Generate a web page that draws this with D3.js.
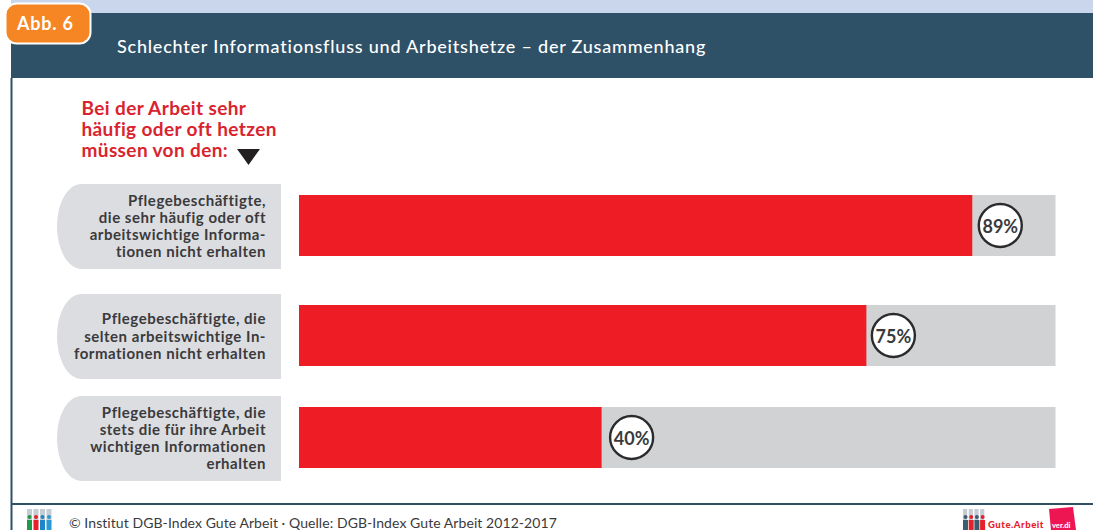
<!DOCTYPE html>
<html>
<head>
<meta charset="utf-8">
<script src="https://cdn.jsdelivr.net/npm/d3@7"></script>
<style>
    html, body { margin: 0; padding: 0; background: #fff; overflow: hidden; }
    svg { display: block; }
    text { font-family: Lato, "Open Sans", sans-serif; }
</style>
</head>
<body>
<svg width="1093" height="530"></svg>
<script>
var categories = ['hoch', 'mittel', 'niedrig']
var values = [89, 75, 40]
var valueLabels = ['89%', '75%', '40%']
var categoryLines = [
    ['Pflegebeschäftigte,', 'die sehr häufig oder oft', 'arbeitswichtige Informa-', 'tionen nicht erhalten'],
    ['Pflegebeschäftigte, die', 'selten arbeitswichtige In-', 'formationen nicht erhalten'],
    ['Pflegebeschäftigte, die', 'stets die für ihre Arbeit', 'wichtigen Informationen', 'erhalten']
]
var introLines = ['Bei der Arbeit sehr', 'häufig oder oft hetzen', 'müssen von den:']
var titleText = 'Schlechter Informationsfluss und Arbeitshetze – der Zusammenhang'
var badgeText = 'Abb. 6'
var footerText = '© Institut DGB-Index Gute Arbeit · Quelle: DGB-Index Gute Arbeit 2012-2017'

var navy = '#2f5167'
var red = '#ee1c25'
var grey = '#d1d2d4'
var labelGrey = '#dcdde0'
var textDark = '#3a3a3c'

var svg = d3.select('svg')

// rahmen und kopf
svg.append('rect').attr('x', 11).attr('y', 0).attr('width', 1082).attr('height', 13).attr('fill', '#c9d6ec')
svg.append('rect').attr('x', 11).attr('y', 13).attr('width', 1082).attr('height', 65).attr('fill', navy)
svg.append('rect').attr('x', 10.5).attr('y', 78).attr('width', 2).attr('height', 452).attr('fill', navy)
svg.append('rect').attr('x', 11).attr('y', 503).attr('width', 1082).attr('height', 2).attr('fill', navy)

svg.append('rect')
    .attr('x', 5.5).attr('y', 3.5)
    .attr('width', 85).attr('height', 40)
    .attr('rx', 11)
    .attr('fill', '#f68524')
    .attr('stroke', '#fff')
    .attr('stroke-width', 2)

svg.append('text')
    .attr('x', 17).attr('y', 30)
    .attr('fill', '#fff')
    .attr('font-size', 18)
    .attr('font-weight', 700)
    .attr('letter-spacing', 0.8)
    .text(badgeText)

svg.append('text')
    .attr('x', 117).attr('y', 53)
    .attr('fill', '#fff')
    .attr('font-size', 18)
    .attr('font-weight', 500)
    .attr('letter-spacing', 0.78)
    .text(titleText)

// überschrift links
svg.selectAll('.intro')
    .data(introLines)
    .enter()
    .append('text')
    .attr('class', 'intro')
    .attr('x', 81.5)
    .attr('y', function (d, i) { return 115 + i * 21 })
    .attr('fill', '#d9232e')
    .attr('font-size', 19)
    .attr('font-weight', 700)
    .attr('letter-spacing', 0.38)
    .text(function (d) { return d })

svg.append('path')
    .attr('d', 'M237,149 L260,149 L248.5,165 Z')
    .attr('fill', '#231f20')

// skalen
var x = d3.scaleLinear().domain([0, 100]).range([299, 1055.5])
var rowY = d3.scaleOrdinal().domain(categories).range([225.5, 335.5, 437.5])
var circleGap = d3.scaleOrdinal().domain(categories).range([28, 27, 30])
var barHeight = 61
var labelHeight = 85

// kategorie-felder
var rows = svg.selectAll('.row')
    .data(categories)
    .enter()
    .append('g')
    .attr('class', 'row')
    .attr('transform', function (d) { return 'translate(0,' + rowY(d) + ')' })

var labelTop = -labelHeight / 2 + 1
var labelBottom = labelHeight / 2 + 1

rows.append('path')
    .attr('d', 'M281,' + labelTop + ' L82,' + labelTop +
        ' C66,' + labelTop + ' 57,-20 57,1 C57,21 66,' + labelBottom +
        ' 82,' + labelBottom + ' L281,' + labelBottom + ' Z')
    .attr('fill', labelGrey)

rows.append('text')
    .attr('text-anchor', 'end')
    .attr('fill', textDark)
    .attr('font-size', 15)
    .attr('font-weight', 700)
    .attr('letter-spacing', 0.52)
    .selectAll('tspan')
    .data(function (d, i) { return categoryLines[i] })
    .enter()
    .append('tspan')
    .attr('x', 266)
    .attr('y', function (d, i, nodes) { return (i - (nodes.length - 1) / 2) * 17.3 + 6 })
    .text(function (d) { return d })

// balken
rows.append('rect')
    .attr('x', x(0))
    .attr('y', -barHeight / 2)
    .attr('width', x(100) - x(0))
    .attr('height', barHeight)
    .attr('fill', grey)

rows.append('rect')
    .attr('x', x(0))
    .attr('y', -barHeight / 2)
    .attr('width', function (d, i) { return x(values[i]) - x(0) })
    .attr('height', barHeight)
    .attr('fill', red)

rows.append('circle')
    .attr('cx', function (d, i) { return x(values[i]) + circleGap(d) })
    .attr('cy', 0)
    .attr('r', 21.5)
    .attr('fill', '#fff')
    .attr('stroke', '#2b2b2d')
    .attr('stroke-width', 2.4)

rows.append('text')
    .attr('x', function (d, i) { return x(values[i]) + circleGap(d) })
    .attr('y', 7)
    .attr('text-anchor', 'middle')
    .attr('fill', textDark)
    .attr('font-size', 18)
    .attr('font-weight', 700)
    .text(function (d, i) { return valueLabels[i] })

// fusszeile
svg.append('text')
    .attr('x', 69).attr('y', 528)
    .attr('fill', textDark)
    .attr('font-size', 14)
    .attr('letter-spacing', 0.07)
    .text(footerText)

function people (g, x0, colors, step) {
    g.selectAll('.bg')
        .data(colors)
        .enter()
        .append('rect')
        .attr('x', function (d, i) { return x0 + i * step })
        .attr('y', 509)
        .attr('width', step - 1.5)
        .attr('height', 14)
        .attr('fill', '#c6ccd3')
    g.selectAll('.head')
        .data(colors)
        .enter()
        .append('circle')
        .attr('cx', function (d, i) { return x0 + 2.5 + i * step })
        .attr('cy', 517)
        .attr('r', 2)
        .attr('fill', function (d) { return d })
    g.selectAll('.body')
        .data(colors)
        .enter()
        .append('rect')
        .attr('x', function (d, i) { return x0 + i * step })
        .attr('y', 520)
        .attr('width', 5)
        .attr('height', 10)
        .attr('fill', function (d) { return d })
}

people(svg.append('g'), 27, ['#1f9a4a', '#e8202a', '#1b87c9', '#2a9ad6'], 6.5)
people(svg.append('g'), 963, ['#3e5c70', '#e8202a', '#3e5c70', '#e8202a'], 5.7)

svg.append('text')
    .attr('x', 988).attr('y', 528)
    .attr('fill', '#e8202a')
    .attr('font-size', 9.5)
    .attr('font-weight', 900)
    .attr('letter-spacing', 0.55)
    .text('Gute.Arbeit')

svg.append('path')
    .attr('d', 'M1049,509 L1073,507 L1076,530 L1051,530 Z')
    .attr('fill', '#ee1652')

svg.append('text')
    .attr('x', 1052).attr('y', 528)
    .attr('fill', '#fff')
    .attr('font-size', 7.5)
    .attr('font-weight', 900)
    .text('ver.di')
</script>
</body>
</html>
